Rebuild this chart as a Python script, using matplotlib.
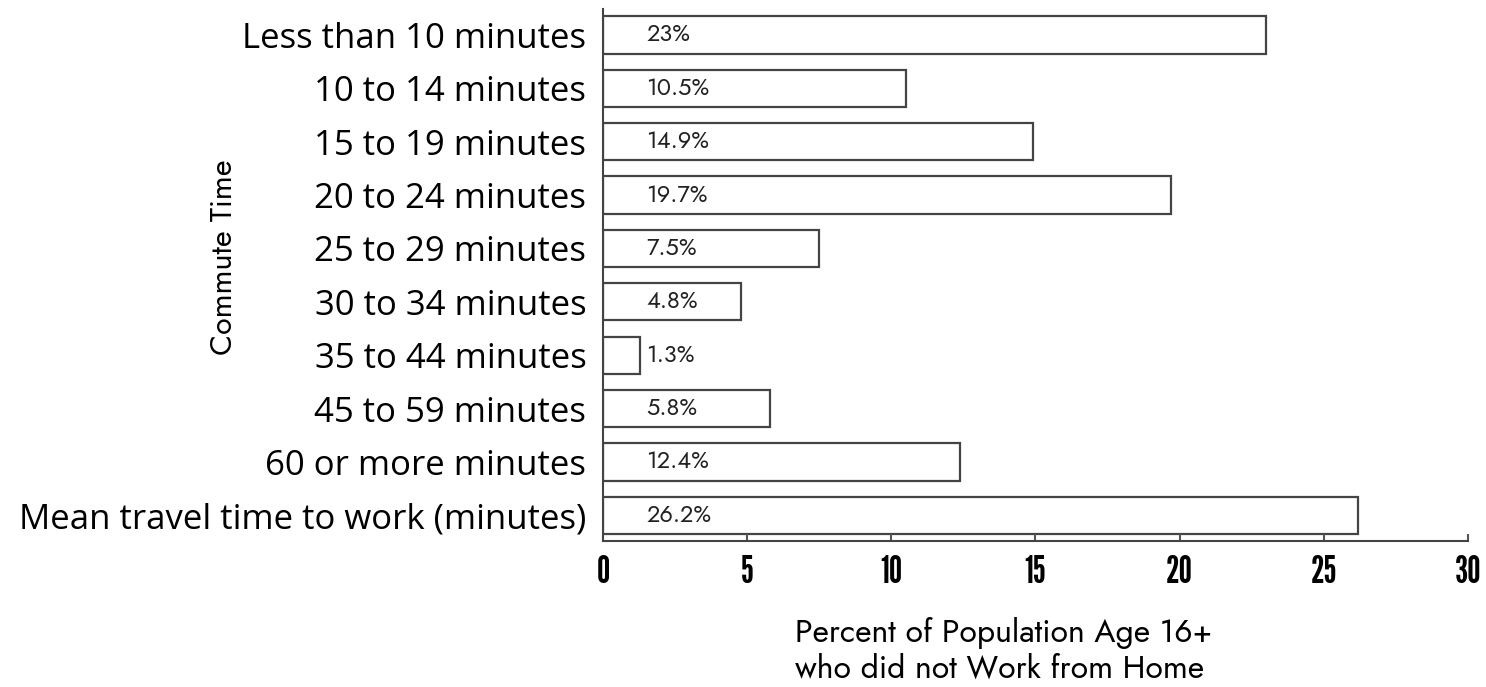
import matplotlib.pyplot as plt
import logging

logging.getLogger("matplotlib.font_manager").setLevel(logging.ERROR)

categories = [
    "Less than 10 minutes",
    "10 to 14 minutes",
    "15 to 19 minutes",
    "20 to 24 minutes",
    "25 to 29 minutes",
    "30 to 34 minutes",
    "35 to 44 minutes",
    "45 to 59 minutes",
    "60 or more minutes",
    "Mean travel time to work (minutes)",
]
values = [23, 10.5, 14.9, 19.7, 7.5, 4.8, 1.3, 5.8, 12.4, 26.2]
labels = ["23%", "10.5%", "14.9%", "19.7%", "7.5%", "4.8%", "1.3%", "5.8%", "12.4%", "26.2%"]
xticks = [0, 5, 10, 15, 20, 25, 30]

geo = ["Jost", "Outfit", "League Spartan", "Lato", "DejaVu Sans"]
tall = ["League Gothic", "Antonio", "Anton", "Oswald", "DejaVu Sans"]

fig = plt.figure(figsize=(14.86, 6.87), dpi=100)
ax = fig.add_axes([0.4058, 0.212, 0.582, 0.7744])

pos = list(range(len(categories)))
ax.barh(pos, values, height=0.7, color="white", edgecolor="#444444", linewidth=1.6)
for p, lab in zip(pos, labels):
    ax.text(1.5, p, lab, va="center", ha="left", fontsize=17, family=geo,
            fontweight="medium", color="#222222")

ax.set_ylim(9.487, -0.478)
ax.set_xlim(0, 30)
ax.set_yticks(pos)
ax.set_yticklabels(categories, fontsize=25, family="Open Sans")
ax.tick_params(axis="y", length=0, pad=12)
ax.set_xticks(xticks)
ax.set_xticklabels([str(t) for t in xticks], fontsize=27, fontweight="bold", family=tall)
ax.tick_params(axis="x", direction="in", length=5, width=1.5, color="#555555", pad=10)

for s in ["top", "right"]:
    ax.spines[s].set_visible(False)
for s in ["left", "bottom"]:
    ax.spines[s].set_linewidth(1.5)
    ax.spines[s].set_color("#444444")

ax.set_ylabel("Commute Time", fontsize=22, family=geo, fontweight="medium")
ax.yaxis.set_label_coords(-0.421, 0.535)
fig.text(0.535, 0.0131, "Percent of Population Age 16+\nwho did not Work from Home",
         ha="left", va="baseline", fontsize=23, family=geo, fontweight="medium",
         linespacing=1.18)

fig.savefig("out.png", dpi=100)
